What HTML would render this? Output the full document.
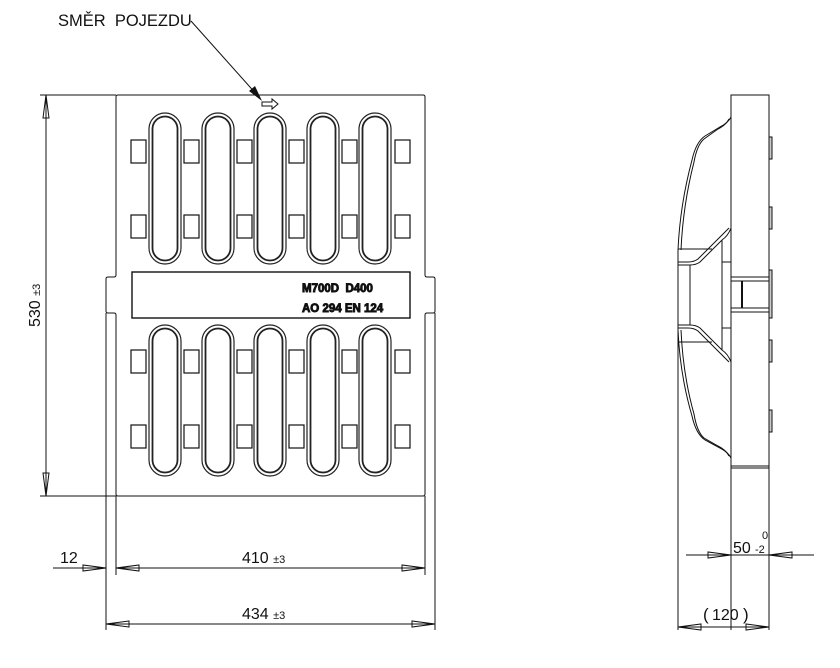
<!DOCTYPE html>
<html><head><style>
html,body{margin:0;padding:0;background:#fff}
svg{display:block}
text{font-family:"Liberation Sans",sans-serif;fill:#111}
</style></head><body>
<svg width="840" height="668" viewBox="0 0 840 668" xmlns="http://www.w3.org/2000/svg">
<defs>
<g id="slot">
<rect x="-16" y="0" width="32" height="151" rx="16" fill="none" stroke="#222" stroke-width="1.2"/>
<rect x="-12.5" y="3.5" width="25" height="144" rx="12.5" fill="none" stroke="#222" stroke-width="1.8"/>
</g>
<g id="sq"><rect x="0" y="0" width="15" height="23" fill="none" stroke="#111" stroke-width="1.2"/></g>
</defs>
<g fill="none" stroke="#111" stroke-width="1">
<path d="M118,95 H423 Q425,95 425,97 V275 Q425,277 427,277 H433 Q435,277 435,279 V311 Q435,313 433,313 H427 Q425,313 425,315 V494 Q425,496 423,496 H118 Q116,496 116,494 V315 Q116,313 114,313 H108 Q106,313 106,311 V279 Q106,277 108,277 H114 Q116,277 116,275 V97 Q116,95 118,95 Z"/>
<rect x="132" y="272" width="278" height="46" stroke-width="1.4"/>
</g>
<g>
<use href="#slot" x="165" y="113"/><use href="#slot" x="218" y="113"/><use href="#slot" x="270" y="113"/><use href="#slot" x="323" y="113"/><use href="#slot" x="375" y="113"/>
<use href="#slot" x="165" y="325"/><use href="#slot" x="218" y="325"/><use href="#slot" x="270" y="325"/><use href="#slot" x="323" y="325"/><use href="#slot" x="375" y="325"/>
</g>
<g>
<use href="#sq" x="131" y="140"/><use href="#sq" x="184" y="140"/><use href="#sq" x="237" y="140"/><use href="#sq" x="289" y="140"/><use href="#sq" x="342" y="140"/><use href="#sq" x="395" y="140"/>
<use href="#sq" x="131" y="215"/><use href="#sq" x="184" y="215"/><use href="#sq" x="237" y="215"/><use href="#sq" x="289" y="215"/><use href="#sq" x="342" y="215"/><use href="#sq" x="395" y="215"/>
<use href="#sq" x="131" y="350"/><use href="#sq" x="184" y="350"/><use href="#sq" x="237" y="350"/><use href="#sq" x="289" y="350"/><use href="#sq" x="342" y="350"/><use href="#sq" x="395" y="350"/>
<use href="#sq" x="131" y="425"/><use href="#sq" x="184" y="425"/><use href="#sq" x="237" y="425"/><use href="#sq" x="289" y="425"/><use href="#sq" x="342" y="425"/><use href="#sq" x="395" y="425"/>
</g>
<text x="302" y="292" font-size="11.5" font-weight="bold" fill="#fff" stroke="#111" stroke-width="0.9">M700D&#160;&#160;D400</text>
<text x="302" y="312" font-size="11.5" font-weight="bold" fill="#fff" stroke="#111" stroke-width="0.9">AO 294 EN 124</text>
<text x="58" y="26" font-size="16.5">SMĚR&#160; POJEZDU</text>
<line x1="191" y1="21" x2="258" y2="96" stroke="#111" stroke-width="1"/>
<polygon points="262,101 249,91 255,86" fill="#111"/>
<path d="M262,102 H272 V99 L278,104 L272,109 V106 H262 Z" fill="#fff" stroke="#111" stroke-width="1"/>
<g stroke="#111" stroke-width="1" fill="none">
<line x1="40" y1="95" x2="116" y2="95"/>
<line x1="40" y1="496" x2="116" y2="496"/>
<line x1="46" y1="95" x2="46" y2="496"/>
<path d="M46,95 L43,118 H49 Z"/><path d="M46,496 L43,473 H49 Z"/>
<line x1="106" y1="313" x2="106" y2="630"/>
<line x1="116" y1="496" x2="116" y2="575"/>
<line x1="425" y1="496" x2="425" y2="575"/>
<line x1="435" y1="313" x2="435" y2="630"/>
<line x1="53" y1="568" x2="106" y2="568"/>
<line x1="116" y1="568" x2="425" y2="568"/>
<path d="M106,568 L83,565 V571 Z"/><path d="M116,568 L139,565 V571 Z"/><path d="M425,568 L402,565 V571 Z"/>
<line x1="106" y1="624" x2="435" y2="624"/>
<path d="M106,624 L129,621 V627 Z"/><path d="M435,624 L412,621 V627 Z"/>
</g>
<text x="60" y="563" font-size="16">12</text>
<text x="242" y="563" font-size="16">410 <tspan font-size="11">±3</tspan></text>
<text x="242" y="619" font-size="16">434 <tspan font-size="11">±3</tspan></text>
<text transform="translate(40,327) rotate(-90)" font-size="16">530 <tspan font-size="11">±3</tspan></text>
<g stroke="#111" stroke-width="1" fill="none">
<rect x="731" y="95" width="38" height="373"/>
<line x1="731" y1="468" x2="731" y2="630"/>
<line x1="678" y1="250" x2="678" y2="630"/>
<path d="M731,117 Q728,123 720,127 L705,136 Q696,142 692,160 Q680,205 678,250"/>
<path d="M729,119 Q726,125 718,129 L704,139 Q697,145 694,162 Q683,205 681,250"/>
<path d="M731,228 Q728,236 722,240 L700,262 Q696,265 690,265 H678"/>
<path d="M729,228 L698,259 Q694,262 688,262 H678"/>
<line x1="678" y1="249" x2="712" y2="249"/>
<line x1="678" y1="342" x2="712" y2="342"/>
<path d="M731,362 Q728,354 722,350 L700,328 Q696,325 690,325 H678"/>
<path d="M729,362 L698,331 Q694,328 688,328 H678"/>
<path d="M731,458 Q728,452 720,448 L705,440 Q696,434 692,416 Q680,375 678,330"/>
<path d="M729,456 Q726,450 718,446 L704,438 Q697,432 694,414 Q683,375 681,330"/>
<line x1="690" y1="265" x2="690" y2="325"/>
<line x1="722" y1="240" x2="722" y2="350"/>
<line x1="722" y1="262" x2="731" y2="262"/><line x1="722" y1="328" x2="731" y2="328"/>
<rect x="731" y="277" width="38" height="35"/>
<line x1="731" y1="281" x2="769" y2="281"/><line x1="731" y1="308" x2="769" y2="308"/>
<line x1="742" y1="281" x2="742" y2="308" stroke-width="2"/>
<rect x="769" y="137" width="3" height="22" fill="#ccc"/>
<rect x="769" y="207" width="3" height="22" fill="#ccc"/>
<rect x="769" y="270" width="3" height="48" fill="#ccc"/>
<rect x="769" y="340" width="3" height="22" fill="#ccc"/>
<rect x="769" y="410" width="3" height="22" fill="#ccc"/>
<line x1="731" y1="466" x2="769" y2="466"/>
<line x1="686" y1="555" x2="814" y2="555"/>
<path d="M731,555 L708,552 V558 Z"/><path d="M769,555 L792,552 V558 Z"/>
<line x1="678" y1="627" x2="769" y2="627"/>
<path d="M678,627 L701,624 V630 Z"/><path d="M769,627 L746,624 V630 Z"/>
</g>
<line x1="769" y1="468" x2="769" y2="630" stroke="#111"/>
<text x="733" y="553" font-size="16">50</text>
<text x="755" y="553" font-size="11">-2</text>
<text x="762" y="539" font-size="11">0</text>
<text x="703" y="620" font-size="17">(</text>
<text x="712" y="620" font-size="16">120</text>
<text x="743" y="620" font-size="17">)</text>
</svg>
</body></html>
